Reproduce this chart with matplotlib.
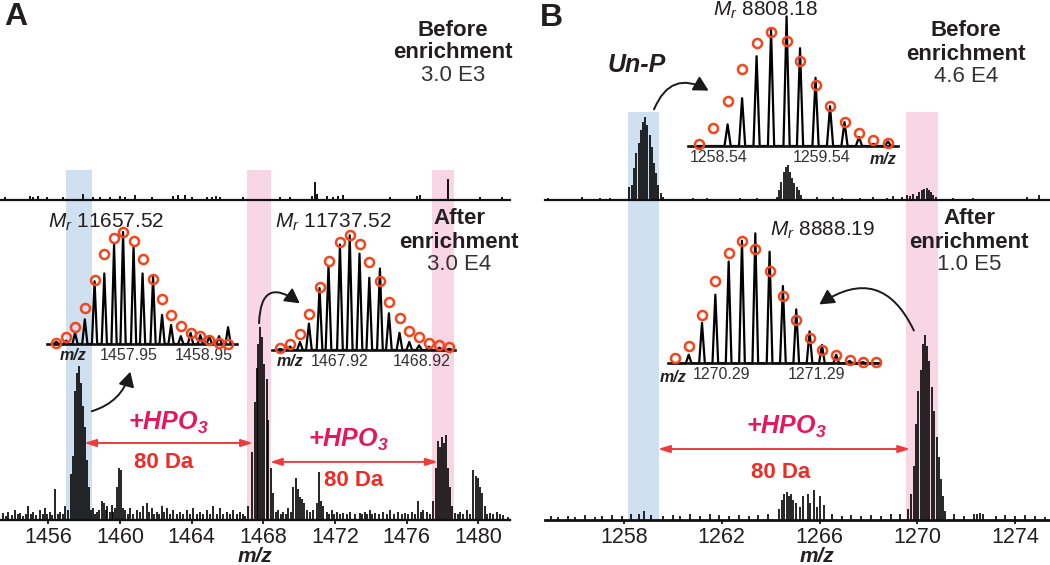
import numpy as np
import matplotlib
matplotlib.use("Agg")
import matplotlib.pyplot as plt
from matplotlib.patches import FancyArrowPatch

plt.rcParams['font.family'] = ['Liberation Sans', 'DejaVu Sans']
plt.rcParams['mathtext.fontset'] = 'custom'
plt.rcParams['mathtext.rm'] = 'Liberation Sans'
plt.rcParams['mathtext.it'] = 'Liberation Sans:italic'
plt.rcParams['mathtext.bf'] = 'Liberation Sans:bold'
plt.rcParams['mathtext.bfit'] = 'Liberation Sans:bold:italic'

# ---------------- panel A : main spectra (m/z, relative intensity %) ----------------
a_mono_mz = [1457.12, 1457.25, 1457.36, 1457.47, 1457.58, 1457.70, 1457.81, 1457.92,
             1458.05, 1458.16, 1458.27, 1458.38]
a_mono_int = [5, 24, 33, 67, 76, 80, 71, 59, 48, 31, 17, 5]

a_p1_mz = [1467.16, 1467.38, 1467.53, 1467.63, 1467.72, 1467.81, 1467.94, 1468.05,
           1468.19, 1468.28, 1468.41, 1468.52]
a_p1_int = [7, 35, 61, 79, 91, 100, 95, 81, 73, 52, 27, 14]

a_p2_mz = [1477.48, 1477.62, 1477.73, 1477.86, 1477.99, 1478.10, 1478.19, 1478.32,
           1478.42, 1478.54]
a_p2_int = [10, 27, 41, 38, 43, 40, 44, 27, 17, 7]

a_other_mz = [1469.67, 1469.81, 1469.92, 1470.05, 1470.17, 1470.29, 1470.98, 1471.11,
              1471.22, 1471.35, 1479.72, 1479.87, 1480.00, 1480.09, 1480.22, 1480.37]
a_other_int = [17, 22, 16, 12, 11, 9, 9, 25, 10, 7, 26, 23, 22, 17, 14, 7]

a_noise_mz = [1453.49, 1453.62, 1453.77, 1453.95, 1454.14, 1454.28, 1454.42, 1454.60,
              1454.75, 1454.88, 1455.02, 1455.16, 1455.33, 1455.54, 1455.68, 1455.82,
              1455.95, 1456.09, 1456.23, 1456.37, 1456.51, 1456.65, 1456.80, 1456.93,
              1458.51, 1458.60, 1458.70, 1458.84, 1458.98, 1459.11, 1459.20, 1459.29,
              1459.42, 1459.54, 1459.63, 1459.72, 1459.82, 1459.95, 1460.06, 1460.18,
              1460.28, 1460.42, 1460.56, 1460.74, 1460.93, 1461.12, 1461.30, 1461.49,
              1461.62, 1461.77, 1461.90, 1462.05, 1462.19, 1462.33, 1462.47, 1462.61,
              1462.80, 1462.98, 1463.16, 1463.35, 1463.53, 1463.72, 1463.90, 1464.09,
              1464.28, 1464.47, 1464.65, 1464.84, 1465.02, 1465.21, 1465.40, 1465.58,
              1465.77, 1465.96, 1466.14, 1466.32, 1466.51, 1466.70, 1466.85, 1466.98,
              1468.70, 1468.83, 1468.97, 1469.11, 1469.25, 1469.39, 1469.52, 1470.45,
              1470.62, 1470.80, 1471.54, 1471.67, 1471.81, 1471.97, 1472.13, 1472.30,
              1472.46, 1472.65, 1472.84, 1473.10, 1473.39, 1473.53, 1473.67, 1473.81,
              1473.95, 1474.09, 1474.23, 1474.46, 1474.69, 1474.88, 1475.07, 1475.30,
              1475.53, 1475.72, 1475.91, 1476.10, 1476.28, 1476.47, 1476.65, 1476.79,
              1476.93, 1477.12, 1477.30, 1478.70, 1478.84, 1478.97, 1479.16, 1479.35,
              1479.52, 1480.50, 1480.65, 1480.84, 1481.02, 1481.20, 1481.39, 1481.67]
a_noise_int = [3.5, 2, 4, 2.5, 5, 3, 3.5, 2, 3, 7, 3, 4, 2.5, 5, 3, 6,
               3, 4, 2.5, 16, 3, 4, 3, 7,
               6, 3, 4, 5, 10, 9, 5, 7,
               4, 8, 4, 6, 17, 27, 26, 6,
               5, 3, 6, 3, 5, 4, 7, 9,
               4, 6, 3, 4, 3, 7, 4, 6,
               3, 5, 3, 4, 3, 5, 3, 6,
               3, 4, 3, 5, 3, 7, 3, 6,
               3, 4, 3, 5, 3, 4, 3, 2,
               4, 5, 3, 4, 3, 6, 4, 5,
               4, 5, 4, 3, 5, 3, 4, 3,
               3.5, 3, 4, 3, 3.5, 3, 4, 3,
               5, 3, 3.5, 3, 4, 3, 5, 3,
               4, 3, 3.5, 3, 4, 3, 10, 4,
               5, 4, 3, 3.5, 3, 4, 3, 5,
               3, 3, 3.5, 3, 4, 3, 2.5, 1.5]

a_before_mz = [1453.58, 1454.98, 1455.16, 1455.44, 1455.91, 1456.84, 1457.95, 1458.51,
               1458.89, 1459.44, 1460.00, 1460.28, 1460.84, 1461.77, 1462.98, 1463.25,
               1463.63, 1464.00, 1464.84, 1465.12, 1465.36, 1465.58, 1466.88, 1468.93,
               1469.49, 1470.70, 1470.88, 1470.98, 1471.54, 1471.90, 1472.18, 1472.46,
               1475.07, 1476.56, 1476.74, 1478.32, 1480.09, 1481.30]
a_before_int = [3, 4, 3, 4, 3, 3, 6, 3, 3, 3, 4, 3, 5, 3, 4, 5, 5, 3, 3, 3, 4, 3, 3, 3,
                3, 4, 18, 6, 4, 3, 4, 5, 3, 4, 5, 21, 3, 3]

# panel A insets: observed (black) and theoretical (red circles) isotope patterns
a_in1_mz = [1456.99, 1457.12, 1457.24, 1457.37, 1457.50, 1457.63, 1457.76, 1457.88, 1458.02,
            1458.14, 1458.28, 1458.40, 1458.52, 1458.65, 1458.78, 1458.91, 1459.03, 1459.16,
            1459.28]
a_in1_obs = [0.02, 0.03, 0.10, 0.22, 0.56, 0.63, 0.89, 1.00, 0.87, 0.63, 0.60, 0.26, 0.17,
             0.07, 0.10, 0.08, 0.07, 0.07, 0.15]
a_in1_theo = [0.01, 0.06, 0.15, 0.32, 0.57, 0.80, 0.95, 1.00, 0.92, 0.76, 0.58, 0.40, 0.26,
              0.16, 0.10, 0.07, 0.04, 0.01, 0.0]

a_in2_mz = [1467.19, 1467.31, 1467.43, 1467.54, 1467.67, 1467.78, 1467.92, 1468.04, 1468.16,
            1468.28, 1468.41, 1468.52, 1468.65, 1468.77, 1468.89, 1469.01, 1469.14, 1469.26]
a_in2_obs = [0.01, 0.03, 0.07, 0.23, 0.54, 0.73, 0.92, 1.00, 0.84, 0.63, 0.71, 0.32, 0.15,
             0.07, 0.04, 0.03, 0.02, 0.01]
a_in2_theo = [0.02, 0.05, 0.14, 0.31, 0.55, 0.78, 0.94, 1.00, 0.92, 0.77, 0.60, 0.42, 0.28,
              0.17, 0.11, 0.06, 0.04, 0.03]

# ---------------- panel B ----------------
b_unp_mz = [1258.22, 1258.31, 1258.41, 1258.50, 1258.60, 1258.70, 1258.79, 1258.87,
            1258.95, 1259.05, 1259.15, 1259.23, 1259.32, 1259.40, 1259.50, 1259.60]
b_unp_int = [16, 18, 38, 56, 68, 84, 94, 100, 90, 78, 64, 44, 32, 18, 8, 4]

b_bmid_mz = [1264.27, 1264.35, 1264.43, 1264.53, 1264.61, 1264.70, 1264.79, 1264.88,
             1264.96, 1265.06, 1265.14, 1265.24]
b_bmid_int = [4, 12, 22, 34, 40, 42, 34, 26, 20, 16, 12, 6]

b_bp_mz = [1269.36, 1269.56, 1269.70, 1269.83, 1269.97, 1270.08, 1270.18, 1270.27,
           1270.38, 1270.46, 1270.56, 1270.65, 1270.76]
b_bp_int = [4, 6, 5, 7, 5, 10, 12, 13, 14, 12, 10, 6, 4]

b_bnoise_mz = [1254.90, 1256.27, 1257.02, 1257.43, 1260.83, 1261.38, 1262.74, 1263.43,
               1265.88, 1266.56, 1266.90, 1267.65, 1268.20, 1268.74, 1269.01, 1271.47,
               1272.29, 1274.47, 1274.95]
b_bnoise_int = [2, 4, 2, 2, 2, 2, 2, 2, 4, 4, 2, 2, 4, 2, 5, 2, 2, 4, 6]

b_p_mz = [1269.63, 1269.74, 1269.84, 1269.93, 1270.04, 1270.14, 1270.23, 1270.31, 1270.40,
          1270.49, 1270.59, 1270.68, 1270.79, 1270.87, 1270.97, 1271.06, 1271.14]
b_p_int = [6, 14, 29, 52, 70, 81, 95, 100, 94, 86, 72, 59, 45, 34, 22, 13, 5]

b_amid_mz = [1264.35, 1264.45, 1264.54, 1264.65, 1264.75, 1264.84, 1264.92, 1265.02,
             1265.20, 1265.33, 1265.51, 1265.61, 1265.77, 1265.88, 1266.02, 1266.19]
b_amid_int = [6, 11, 14, 15, 13, 14, 11, 9, 7, 13, 14, 9, 16, 7, 13, 8]

b_anoise_mz = [1255.0, 1255.3, 1255.7, 1256.0, 1256.4, 1256.8, 1257.1, 1257.5, 1257.9,
               1258.3, 1258.6, 1258.82, 1259.1, 1259.6, 1260.0, 1260.3, 1260.7, 1261.1,
               1261.5, 1261.9, 1262.3, 1262.7, 1263.1, 1263.5, 1263.9, 1266.5, 1266.9,
               1267.3, 1267.7, 1268.1, 1268.5, 1268.9, 1269.3, 1271.5, 1271.9, 1272.3,
               1272.45, 1272.56, 1272.7, 1273.2, 1273.6, 1274.0, 1274.4, 1274.8, 1275.2]
b_anoise_int = [2, 1.5, 2, 1.5, 2.5, 1.5, 2, 2.5, 2, 3, 3, 5, 2.5, 2, 2.5, 2, 3, 2,
                3, 2.5, 2, 2.5, 2, 2.5, 3, 3, 2, 2.5, 2, 2.5, 2, 3, 3, 3, 2, 3,
                3, 4, 3, 2, 2.5, 2, 2.5, 2, 1.5]

b_in1_mz = [1258.35, 1258.49, 1258.63, 1258.77, 1258.91, 1259.05, 1259.20, 1259.33, 1259.48,
            1259.62, 1259.76, 1259.90, 1260.04, 1260.18]
b_in1_obs = [0.0, 0.0, 0.19, 0.42, 0.79, 1.02, 1.14, 0.86, 0.60, 0.35, 0.21, 0.08, 0.02, 0.04]
b_in1_theo = [0.02, 0.16, 0.40, 0.68, 0.91, 1.00, 0.92, 0.75, 0.54, 0.35, 0.21, 0.11, 0.05, 0.03]

b_in2_mz = [1269.81, 1269.95, 1270.09, 1270.23, 1270.37, 1270.51, 1270.65, 1270.80, 1270.94,
            1271.08, 1271.22, 1271.35, 1271.50, 1271.64, 1271.78, 1271.92]
b_in2_obs = [0.0, 0.07, 0.33, 0.56, 0.83, 1.00, 1.06, 0.91, 0.63, 0.44, 0.26, 0.15, 0.07,
             0.02, 0.01, 0.0]
b_in2_theo = [0.04, 0.14, 0.39, 0.67, 0.90, 1.00, 0.93, 0.75, 0.55, 0.35, 0.21, 0.11, 0.07,
              0.03, 0.01, 0.01]

a_ticks = [1456, 1460, 1464, 1468, 1472, 1476, 1480]
b_ticks = [1258, 1262, 1266, 1270, 1274]

# ---------------- styling ----------------
W, H = 1050, 565
INK = '#231f20'
BLUE = '#cfe0f1'
PINK = '#f9d6e3'
CIRCLE = '#f2461f'
MAGENTA = '#e5185d'
RED = '#ee2b25'

fig = plt.figure(figsize=(W / 100, H / 100), dpi=100)


def box(x0, y0, x1, y1):
    """pixel box (top-left origin) -> figure rect"""
    return [x0 / W, 1 - y1 / H, (x1 - x0) / W, (y1 - y0) / H]


def fp(x, y):
    return (x / W, 1 - y / H)


def spec_axes(rect, xlim, ytop, lw=1.7):
    ax = fig.add_axes(rect)
    ax.patch.set_alpha(0)
    for s in ['top', 'right', 'left']:
        ax.spines[s].set_visible(False)
    ax.spines['bottom'].set_linewidth(lw)
    ax.spines['bottom'].set_color('#111111')
    ax.set_xlim(*xlim)
    ax.set_ylim(0, ytop)
    ax.set_yticks([])
    ax.set_xticks([])
    return ax


def profile(mz, inten, hw):
    order = np.argsort(mz)
    xs, ys = [], []
    for m, h in zip(np.asarray(mz)[order], np.asarray(inten)[order]):
        xs += [m - hw, m, m + hw]
        ys += [0, h, 0]
    return xs, ys


def sticks(ax, mz, inten, lw=1.2):
    ax.vlines(mz, 0, inten, color='#000000', lw=lw)


def inset(rect, xlim, ytop, mz, obs, theo, hw, ticks):
    ax = spec_axes(rect, xlim, ytop, lw=1.9)
    xs, ys = profile(mz, obs, hw)
    ax.plot(xs, ys, color='#000000', lw=1.6, clip_on=False)
    ax.plot(mz, theo, 'o', mfc='none', mec=CIRCLE, ms=6.5, mew=1.8, clip_on=False, zorder=3)
    ax.set_xticks(ticks, labels=[f'{t:.2f}' for t in ticks])
    ax.tick_params(axis='x', length=0, pad=3, labelsize=11.5, labelcolor='#333333')
    return ax


# ---- panel A main (after) ----
axA = spec_axes(box(0, 170, 510, 520), (1453.30, 1481.77), 100 * 350 / 193)
axA.axvspan(1456.99, 1458.44, color=BLUE, lw=0, zorder=0)
axA.axvspan(1467.09, 1468.43, color=PINK, lw=0, zorder=0)
axA.axvspan(1477.41, 1478.64, color=PINK, lw=0, zorder=0)
for mz, it in [(a_noise_mz, a_noise_int), (a_other_mz, a_other_int), (a_mono_mz, a_mono_int),
               (a_p1_mz, a_p1_int), (a_p2_mz, a_p2_int)]:
    sticks(axA, mz, it)
axA.set_xticks(a_ticks)
axA.tick_params(axis='x', length=3, width=1.2, pad=2, labelsize=15.5, labelcolor=INK)

axA_b = spec_axes(box(0, 150, 510, 200), (1453.30, 1481.77), 50, lw=1.6)
sticks(axA_b, a_before_mz, a_before_int, lw=1.3)

inset(box(46.7, 225, 236.7, 344), (1456.862, 1459.395), 119 / 112,
      a_in1_mz, a_in1_obs, a_in1_theo, 0.035, [1457.95, 1458.95])
inset(box(271.7, 228, 455, 350), (1467.084, 1469.33), 122 / 114.7,
      a_in2_mz, a_in2_obs, a_in2_theo, 0.035, [1467.92, 1468.92])

# ---- panel B main (after) ----
axB = spec_axes(box(545, 112, 1050, 520), (1254.77, 1275.42), 100 * 408 / 185, lw=2.0)
axB.axvspan(1258.16, 1259.43, color=BLUE, lw=0, zorder=0)
axB.axvspan(1269.53, 1270.84, color=PINK, lw=0, zorder=0)
for mz, it in [(b_anoise_mz, b_anoise_int), (b_amid_mz, b_amid_int), (b_p_mz, b_p_int)]:
    sticks(axB, mz, it)
axB.set_xticks(b_ticks)
axB.tick_params(axis='x', length=3, width=1.2, pad=2, labelsize=15.5, labelcolor=INK)

axB_b = spec_axes(box(545, 20, 1050, 200), (1254.77, 1275.42), 100 * 180 / 83.3, lw=1.6)
for mz, it in [(b_bnoise_mz, b_bnoise_int), (b_unp_mz, b_unp_int), (b_bmid_mz, b_bmid_int),
               (b_bp_mz, b_bp_int)]:
    sticks(axB_b, mz, it)

inset(box(688.3, 12, 898.3, 146), (1258.25, 1260.28), 134 / 113.7,
      b_in1_mz, b_in1_obs, b_in1_theo, 0.03, [1258.54, 1259.54])
inset(box(668.3, 228, 880, 363.3), (1269.736, 1271.96), 135.3 / 122.6,
      b_in2_mz, b_in2_obs, b_in2_theo, 0.03, [1270.29, 1271.29])

# ---- red +HPO3 arrows ----
arrow_kw = dict(arrowstyle='<|-|>,head_length=0.7,head_width=0.22', color='#ef3b3b',
                lw=1.4, shrinkA=0, shrinkB=0)
axA.annotate('', xy=(1467.42, 0.22), xycoords=axA.get_xaxis_transform(),
             xytext=(1458.00, 0.22), textcoords=axA.get_xaxis_transform(), arrowprops=arrow_kw)
axA.annotate('', xy=(1477.74, 0.166), xycoords=axA.get_xaxis_transform(),
             xytext=(1468.37, 0.166), textcoords=axA.get_xaxis_transform(), arrowprops=arrow_kw)
axB.annotate('', xy=(1269.70, 0.174), xycoords=axB.get_xaxis_transform(),
             xytext=(1259.39, 0.174), textcoords=axB.get_xaxis_transform(), arrowprops=arrow_kw)

# ---- black curved pointers ----
for a, b, rad in [((89, 412), (131, 369), 0.3), ((259, 326), (302, 305), -1.0),
                  ((653, 112), (711, 92), -0.6), ((915, 333), (817, 306), 0.6)]:
    fig.add_artist(FancyArrowPatch(fp(*a), fp(*b), transform=fig.transFigure,
                                   arrowstyle='-|>,head_length=0.55,head_width=0.3',
                                   connectionstyle=f'arc3,rad={rad}', mutation_scale=16,
                                   lw=1.4, color='#1a1a1a'))


# ---- texts ----
def t(x, y, s, **kw):
    kw.setdefault('color', INK)
    kw.setdefault('ha', 'center')
    kw.setdefault('va', 'center')
    fig.text(*fp(x, y), s, **kw)


t(16, 17, 'A', fontsize=23, fontweight='bold')
t(551, 18, 'B', fontsize=23, fontweight='bold')

for x, ys, lines in [(453, (31, 53, 76), ('Before', 'enrichment', '3.0 E3')),
                     (459, (218, 242, 264), ('After', 'enrichment', '3.0 E4')),
                     (966, (31, 54, 77), ('Before', 'enrichment', '4.6 E4')),
                     (969, (218, 243, 264), ('After', 'enrichment', '1.0 E5'))]:
    t(x, ys[0], lines[0], fontsize=16, fontweight='bold')
    t(x, ys[1], lines[1], fontsize=16, fontweight='bold')
    t(x, ys[2], lines[2], fontsize=16, color='#333333')

t(48, 222, r'$M_r$ 11657.52', fontsize=15, ha='left')
t(275, 222, r'$M_r$ 11737.52', fontsize=15, ha='left')
t(713, 10, r'$M_r$ 8808.18', fontsize=15, ha='left')
t(770, 230, r'$M_r$ 8888.19', fontsize=15, ha='left')

t(73, 356, 'm/z', fontsize=11.5, fontweight='bold', style='italic')
t(290, 361, 'm/z', fontsize=11.5, fontweight='bold', style='italic')
t(883, 160, 'm/z', fontsize=11.5, fontweight='bold', style='italic')
t(673, 377, 'm/z', fontsize=11.5, fontweight='bold', style='italic')

t(637, 65, 'Un-P', fontsize=18, fontweight='bold', style='italic')

for x, y in [(168, 423), (348, 440), (786, 427)]:
    t(x, y, r'$\mathbfit{+HPO_3}$', fontsize=18, color=MAGENTA)
for x, y in [(164, 463), (354, 480), (781, 472)]:
    t(x, y, '80 Da', fontsize=16, fontweight='bold', color=RED)

t(255, 557, 'm/z', fontsize=15, fontweight='bold', style='italic')
t(817, 557, 'm/z', fontsize=15, fontweight='bold', style='italic')

fig.savefig('out.png', dpi=100)
